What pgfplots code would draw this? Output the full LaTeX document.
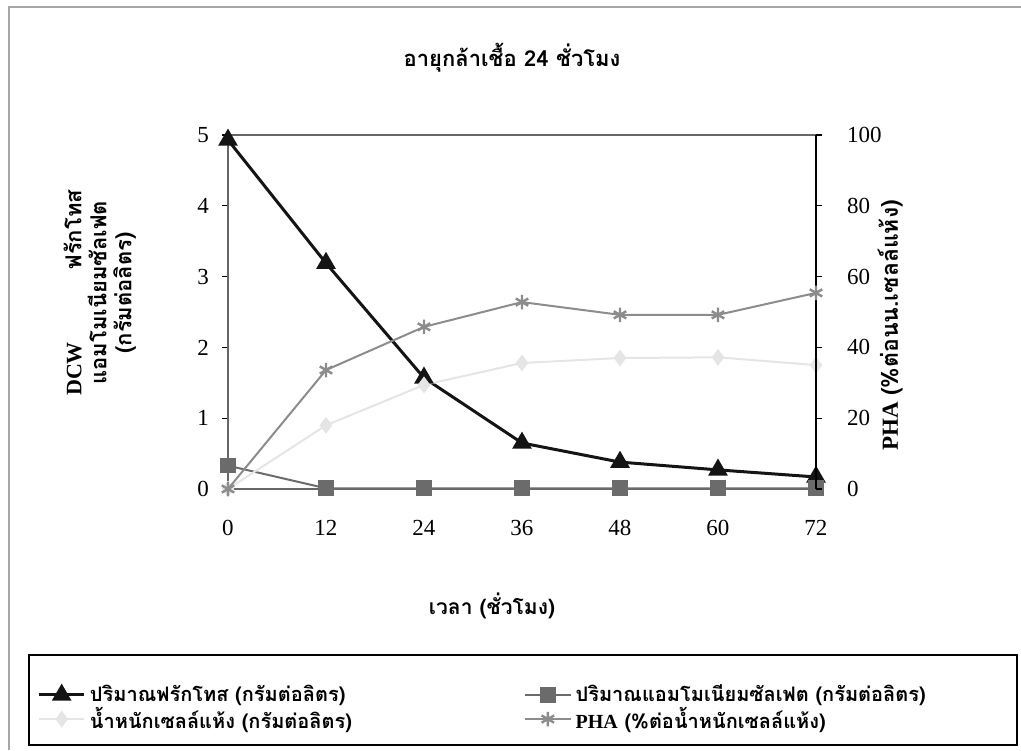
\documentclass[border=0pt]{standalone}
\usepackage{fontspec}
\setmainfont{Liberation Serif}
\newfontfamily\thai[Script=Thai]{Loma}
\usepackage{pgfplots}
\pgfplotsset{compat=1.18}

\definecolor{frucC}{gray}{0.08}
\definecolor{ammC}{gray}{0.42}
\definecolor{dcwC}{gray}{0.90}
\definecolor{phaC}{gray}{0.55}

\pgfplotsset{
  every axis/.append style={
    /pgf/number format/assume math mode=true,
    tick label style={font=\fontsize{11.5}{13}\selectfont},
  },
  twoseg/.style={legend image code/.code={%
    \draw[mark repeat=2,mark phase=2] plot coordinates {(0cm,0cm)(0.4cm,0cm)(0.8cm,0cm)};}},
}

\begin{document}
\begin{tikzpicture}[x=1pt,y=1pt]
\useasboundingbox (-114,-130.5) rectangle (396.5,244.5);
% outer frame
\draw[gray!70, line width=0.6pt] (-109.5,-130.5) -- (-109.5,241) -- (396.5,241);

\begin{axis}[
  name=main,
  at={(0,0)}, anchor=south west,
  scale only axis, width=294pt, height=177pt,
  xmin=0, xmax=72, ymin=0, ymax=5,
  xtick={0,12,24,36,48,60,72}, ytick={0,1,2,3,4,5},
  xtick pos=bottom, ytick pos=left,
  tick align=outside, major tick length=3pt,
  axis line style={gray!80!black, line width=0.8pt},
  tick style={black, line width=0.6pt},
  xticklabel style={yshift=-9pt},
  yticklabel style={xshift=-3pt},
  title={\thai\bfseries\fontsize{11}{13}\selectfont อายุกล้าเชื้อ 24 ชั่วโมง},
  title style={at={(axis description cs:0.483,1.184)}, anchor=center},
  xlabel={\thai\bfseries\fontsize{10.5}{13}\selectfont เวลา (ชั่วโมง)},
  xlabel style={at={(axis description cs:0.449,-0.33)}, anchor=center},
  ylabel={DCW\hspace{3.3em}{\thai ฟรักโทส}\\{\thai แอมโมเนียมซัลเฟต}\\{\thai (กรัมต่อลิตร)}},
  ylabel style={at={(axis description cs:-0.218,0.554)}, anchor=center, align=center,
    font=\bfseries\fontsize{11}{12.5}\selectfont},
  legend columns=2,
  legend cell align=left,
  legend style={
    draw=none, fill=none,
    at={(axis description cs:-0.335,-0.53)}, anchor=north west,
    font=\thai\bfseries\fontsize{10}{12}\selectfont,
    /tikz/every even column/.append style={column sep=84pt},
    row sep=-3pt,
  },
]
% fructose (g/L)
\addplot[twoseg, color=frucC, line width=1.5pt, mark=triangle*, mark size=4.2pt, mark options={fill=frucC}]
  coordinates {(0,4.93) (12,3.19) (24,1.57) (36,0.65) (48,0.38) (60,0.27) (72,0.17)};
\addlegendentry{ปริมาณฟรักโทส (กรัมต่อลิตร)}
% ammonium sulfate (g/L)
\addplot[twoseg, color=ammC, line width=1pt, mark=square*, mark size=3.4pt, mark options={fill=ammC}]
  coordinates {(0,0.33) (12,0.01) (24,0.01) (36,0.01) (48,0.01) (60,0.01) (72,0.01)};
\addlegendentry{ปริมาณแอมโมเนียมซัลเฟต (กรัมต่อลิตร)}
% dry cell weight (g/L)
\addplot[twoseg, color=dcwC, line width=1pt, mark=diamond*, mark size=3.4pt, mark options={fill=dcwC}]
  coordinates {(0,0.0) (12,0.90) (24,1.47) (36,1.78) (48,1.85) (60,1.86) (72,1.75)};
\addlegendentry{น้ำหนักเซลล์แห้ง (กรัมต่อลิตร)}
\addlegendimage{twoseg, color=phaC, line width=1pt, mark=asterisk, mark size=3.6pt, mark options={line width=1.2pt}}
\addlegendentry{{\rmfamily PHA} (\%ต่อน้ำหนักเซลล์แห้ง)}
\end{axis}

\begin{axis}[
  at={(0,0)}, anchor=south west,
  scale only axis, width=294pt, height=177pt,
  xmin=0, xmax=72, ymin=0, ymax=100,
  ytick={0,20,40,60,80,100},
  axis x line=none,
  axis y line*=right,
  tick align=outside, major tick length=3pt,
  axis line style={black, line width=0.8pt},
  tick style={black, line width=0.6pt},
  yticklabel style={xshift=9pt},
  ylabel={PHA {\thai (\%ต่อนน.เซลล์แห้ง)}},
  ylabel style={at={(axis description cs:1.126,0.463)}, anchor=center, rotate=0,
    font=\bfseries\fontsize{11.5}{13}\selectfont},
]
% PHA (% of dry cell weight)
\addplot[color=phaC, line width=1pt, mark=asterisk, mark size=3.6pt, mark options={line width=1.2pt}]
  coordinates {(0,0) (12,33.6) (24,45.8) (36,52.8) (48,49.2) (60,49.2) (72,55.4)};
\end{axis}

% legend frame
\draw[black, line width=0.8pt] (-99.5,-128) rectangle (394.5,-83);
\end{tikzpicture}
\end{document}
